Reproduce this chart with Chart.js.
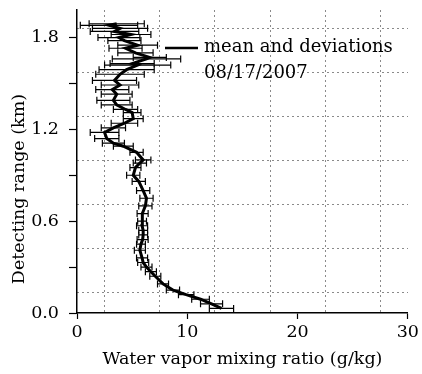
<!DOCTYPE html>
<html>
<head>
<meta charset="utf-8">
<script src="https://cdn.jsdelivr.net/npm/chart.js@4/dist/chart.umd.min.js"></script>
<style>
  html, body { margin: 0; padding: 0; background: #fff; }
</style>
</head>
<body>
<canvas id="profileCanvas" width="422" height="374"></canvas>
<script>
// detecting range (km)
const heights = [0.03, 0.06, 0.09, 0.12, 0.15, 0.19, 0.24, 0.27, 0.30, 0.33,
  0.36, 0.41, 0.45, 0.48, 0.51, 0.54, 0.57, 0.60, 0.65, 0.70,
  0.75, 0.80, 0.86, 0.90, 0.95, 0.98, 1.00, 1.05, 1.09, 1.11,
  1.14, 1.18, 1.21, 1.24, 1.27, 1.31, 1.33, 1.36, 1.39, 1.43,
  1.46, 1.49, 1.52, 1.56, 1.59, 1.62, 1.63, 1.66, 1.67, 1.70,
  1.73, 1.75, 1.78, 1.80, 1.82, 1.84, 1.86, 1.88, 1.89]
// mean water vapor mixing ratio (g/kg)
const means = [13.1, 12.2, 11.2, 9.9, 8.7, 7.8, 7.1, 6.7, 6.3, 6.0,
  5.9, 5.7, 5.8, 5.95, 6.0, 6.0, 5.9, 5.9, 5.95, 6.2,
  6.3, 6.0, 5.6, 5.1, 5.3, 5.7, 6.0, 5.4, 4.2, 3.3,
  2.7, 2.5, 3.3, 4.3, 5.1, 5.0, 4.4, 3.6, 3.3, 3.6,
  3.2, 3.9, 3.4, 3.9, 4.5, 5.5, 5.0, 6.3, 6.6, 5.3,
  4.4, 5.5, 4.3, 3.8, 4.9, 3.4, 3.9, 2.9, 3.6]
// standard deviations (g/kg)
const deviations = [1.1, 1.0, 0.8, 0.7, 0.6, 0.5, 0.5, 0.5, 0.5, 0.5,
  0.5, 0.5, 0.4, 0.5, 0.4, 0.4, 0.5, 0.4, 0.5, 0.6,
  0.6, 0.6, 0.6, 0.6, 0.5, 0.6, 0.7, 0.6, 0.9, 1.0,
  1.1, 1.3, 1.1, 1.2, 0.9, 0.8, 1.1, 1.4, 1.5, 1.4,
  1.5, 1.7, 2.0, 2.2, 2.5, 3.0, 2.0, 3.1, 1.5, 1.6,
  1.5, 1.8, 1.5, 1.9, 1.8, 2.2, 2.5, 2.6, 2.5]

const xTicks = [0, 10, 20, 30]
const yTicks = [0, 0.3, 0.6, 0.9, 1.2, 1.5, 1.8]
const xGridLines = [2.5, 7.5, 12.5, 17.5, 22.5, 27.5]
const yGridLines = [0.133, 0.42, 0.708, 0.996, 1.283, 1.57, 1.858]

const legendLines = ['mean and deviations', '08/17/2007']
const yTitle = 'Detecting range (km)'

const serif = "'DejaVu Serif', serif"

const meanPoints = heights.map((h, i) => ({ x: means[i], y: h }))
const errorPoints = []
heights.forEach((h, i) => {
  errorPoints.push({ x: means[i] - deviations[i], y: h })
  errorPoints.push({ x: means[i] + deviations[i], y: h })
  errorPoints.push({ x: null, y: null })
})

// legend inside the plot and the y title (centred a bit below the axis middle)
const textPlugin = {
  id: 'insideText',
  afterDraw (chart) {
    const { ctx, chartArea } = chart
    const left = chartArea.left + 88
    const top = chartArea.top + 38
    ctx.save()
    ctx.strokeStyle = '#000'
    ctx.lineWidth = 2.5
    ctx.beginPath()
    ctx.moveTo(left, top)
    ctx.lineTo(left + 33, top)
    ctx.stroke()
    ctx.fillStyle = '#000'
    ctx.font = '18px ' + serif
    ctx.textBaseline = 'middle'
    ctx.fillText(legendLines[0], left + 39, top - 1)
    ctx.fillText(legendLines[1], left + 39, top + 25)

    ctx.font = '17.5px ' + serif
    ctx.textAlign = 'center'
    ctx.translate(19, chartArea.bottom - 124)
    ctx.rotate(-Math.PI / 2)
    ctx.fillText(yTitle, 0, 0)
    ctx.restore()
  }
}

const dottedGrid = { color: '#8a8a8a', lineWidth: 1, tickLength: 0 }
const dottedBorder = { display: false, dash: [2, 3] }

new Chart(document.getElementById('profileCanvas').getContext('2d'), {
  type: 'scatter',
  data: {
    datasets: [
      {
        data: errorPoints,
        showLine: true,
        spanGaps: false,
        borderColor: '#000',
        borderWidth: 1.2,
        pointStyle: 'line',
        rotation: 90,
        pointRadius: 3.5,
        pointBorderWidth: 1.2,
        pointBorderColor: '#000'
      },
      {
        data: meanPoints,
        showLine: true,
        borderColor: '#000',
        borderWidth: 3,
        pointRadius: 0,
        tension: 0
      }
    ]
  },
  options: {
    responsive: false,
    animation: false,
    devicePixelRatio: 1,
    layout: { padding: { top: 10, right: 14, left: 0, bottom: 0 } },
    plugins: { legend: { display: false }, tooltip: { enabled: false } },
    scales: {
      x: {
        type: 'linear',
        min: 0,
        max: 30,
        afterBuildTicks: s => { s.ticks = xTicks.map(v => ({ value: v })) },
        afterFit: s => { s.height = 61 },
        ticks: { color: '#000', font: { family: serif, size: 17.5 }, padding: 3, maxRotation: 0 },
        grid: { drawOnChartArea: false, color: '#000', tickLength: 6, tickWidth: 1.2 },
        border: { color: '#000', width: 1.5 },
        title: {
          display: true,
          text: 'Water vapor mixing ratio (g/kg)',
          color: '#000',
          font: { family: serif, size: 17.5 },
          padding: { top: 2, bottom: 4 }
        }
      },
      y: {
        type: 'linear',
        min: 0,
        max: 1.98,
        afterBuildTicks: s => { s.ticks = yTicks.map(v => ({ value: v })) },
        afterFit: s => {
          s.width = 77
          s.paddingTop = 0
          s.paddingBottom = 0
        },
        ticks: {
          color: '#000',
          font: { family: serif, size: 17.5 },
          padding: 10,
          callback: v => (Math.round(v * 10) % 6 === 0 ? v.toFixed(1) : '')
        },
        grid: { drawOnChartArea: false, color: '#000', tickLength: 8, tickWidth: 1.2 },
        border: { color: '#000', width: 1.5 }
      },
      xGrid: {
        type: 'linear',
        position: 'top',
        min: 0,
        max: 30,
        afterBuildTicks: s => { s.ticks = xGridLines.map(v => ({ value: v })) },
        afterFit: s => { s.height = 0 },
        ticks: { display: false },
        border: dottedBorder,
        grid: dottedGrid
      },
      yGrid: {
        type: 'linear',
        position: 'right',
        min: 0,
        max: 1.98,
        afterBuildTicks: s => { s.ticks = yGridLines.map(v => ({ value: v })) },
        afterFit: s => { s.width = 0 },
        ticks: { display: false },
        border: dottedBorder,
        grid: dottedGrid
      }
    }
  },
  plugins: [textPlugin]
})
</script>
</body>
</html>
